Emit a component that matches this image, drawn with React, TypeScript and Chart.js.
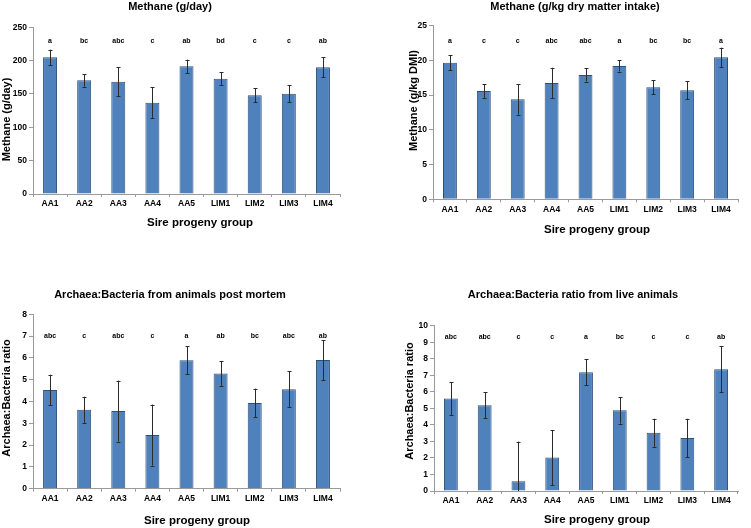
import React, { useEffect, useRef } from "react";
import { Chart, registerables } from "chart.js";

Chart.register(...registerables);

const groups = ["AA1", "AA2", "AA3", "AA4", "AA5", "LIM1", "LIM2", "LIM3", "LIM4"];

const methaneDay = [205, 170.5, 168.5, 137, 191.5, 173, 148, 150.5, 190];
const methaneDayErr = [11.5, 9.5, 22, 22.8, 10, 9.3, 10.5, 13, 14.8];
const methaneDayLetters = ["a", "bc", "abc", "c", "ab", "bd", "c", "c", "ab"];

const methaneDmi = [19.67, 15.6, 14.4, 16.75, 17.9, 19.2, 16.12, 15.69, 20.44];
const methaneDmiErr = [1.1, 1.0, 2.2, 2.2, 0.95, 0.8, 1.0, 1.3, 1.4];
const methaneDmiLetters = ["a", "c", "c", "abc", "abc", "a", "bc", "bc", "a"];

const ratioPostMortem = [4.53, 3.62, 3.56, 2.46, 5.89, 5.29, 3.93, 4.56, 5.9];
const ratioPostMortemErr = [0.7, 0.6, 1.4, 1.4, 0.64, 0.57, 0.66, 0.82, 0.92];
const ratioPostMortemLetters = ["abc", "c", "abc", "c", "a", "ab", "bc", "abc", "ab"];

const ratioLive = [5.59, 5.18, 0.59, 2.02, 7.19, 4.88, 3.52, 3.2, 7.37];
const ratioLiveErr = [1.0, 0.78, 2.4, 1.66, 0.8, 0.8, 0.85, 1.17, 1.38];
const ratioLiveLetters = ["abc", "abc", "c", "c", "a", "bc", "c", "c", "ab"];

const FONT = '"Liberation Sans", Arial, sans-serif';

type PanelCfg = {
  x: number; y: number; W: number; H: number;
  left: number; right: number; top: number; bottom: number;
  yMax: number; yStep: number; letterValue: number;
  values: number[]; errors: number[]; letters: string[];
  title: string; titlePos: [number, number];
  xTitle: string; xTitlePos: [number, number];
  yTitle: string; yTitlePos: [number, number];
};

const panels: PanelCfg[] = [
  {
    x: 0, y: 0, W: 375, H: 264, left: 33, right: 340, top: 27.3, bottom: 194,
    yMax: 250, yStep: 50, letterValue: 229,
    values: methaneDay, errors: methaneDayErr, letters: methaneDayLetters,
    title: "Methane (g/day)", titlePos: [170, 7],
    xTitle: "Sire progeny group", xTitlePos: [200, 223],
    yTitle: "Methane (g/day)", yTitlePos: [7, 119.5],
  },
  {
    x: 375, y: 0, W: 376, H: 264, left: 58, right: 363, top: 25.7, bottom: 199.3,
    yMax: 25, yStep: 5, letterValue: 22.8,
    values: methaneDmi, errors: methaneDmiErr, letters: methaneDmiLetters,
    title: "Methane (g/kg dry matter intake)", titlePos: [200, 7],
    xTitle: "Sire progeny group", xTitlePos: [222, 230],
    yTitle: "Methane (g/kg DMI)", yTitlePos: [39, 100.5],
  },
  {
    x: 0, y: 264, W: 375, H: 264, left: 33, right: 340, top: 50.3, bottom: 224.7,
    yMax: 8, yStep: 1, letterValue: 7,
    values: ratioPostMortem, errors: ratioPostMortemErr, letters: ratioPostMortemLetters,
    title: "Archaea:Bacteria from animals post mortem", titlePos: [170, 31],
    xTitle: "Sire progeny group", xTitlePos: [197, 256.7],
    yTitle: "Archaea:Bacteria ratio", yTitlePos: [7, 134],
  },
  {
    x: 375, y: 264, W: 376, H: 264, left: 59, right: 363, top: 61.7, bottom: 227,
    yMax: 10, yStep: 1, letterValue: 9.33,
    values: ratioLive, errors: ratioLiveErr, letters: ratioLiveLetters,
    title: "Archaea:Bacteria ratio from live animals", titlePos: [198, 31],
    xTitle: "Sire progeny group", xTitlePos: [222, 255.7],
    yTitle: "Archaea:Bacteria ratio", yTitlePos: [35, 137],
  },
];

function Panel({ cfg }: { cfg: PanelCfg }) {
  const ref = useRef<HTMLCanvasElement>(null);
  useEffect(() => {
    const canvas = ref.current;
    if (!canvas) return;
    const X_H = 20;
    const extras = {
      id: "extras",
      afterDatasetsDraw(chart: any) {
        const ctx = chart.ctx;
        const yScale = chart.scales.y;
        const meta = chart.getDatasetMeta(0);
        ctx.save();
        ctx.strokeStyle = "#2b2b2b";
        ctx.lineWidth = 1;
        cfg.values.forEach((v, i) => {
          const bar = meta.data[i];
          const e = cfg.errors[i];
          const px = Math.round(bar.x) + 0.5;
          const yt = yScale.getPixelForValue(v + e);
          const yb = yScale.getPixelForValue(Math.max(v - e, 0));
          ctx.beginPath();
          ctx.moveTo(px, yt);
          ctx.lineTo(px, yb);
          ctx.moveTo(px - 2, Math.round(yt) + 0.5);
          ctx.lineTo(px + 2, Math.round(yt) + 0.5);
          if (v - e > 0) {
            ctx.moveTo(px - 2, Math.round(yb) + 0.5);
            ctx.lineTo(px + 2, Math.round(yb) + 0.5);
          }
          ctx.stroke();
        });
        ctx.fillStyle = "#000";
        ctx.font = `bold 7px ${FONT}`;
        ctx.textAlign = "center";
        ctx.textBaseline = "middle";
        const ly = yScale.getPixelForValue(cfg.letterValue);
        cfg.letters.forEach((l, i) => {
          ctx.fillText(l, meta.data[i].x, ly);
        });
        ctx.restore();
      },
      afterDraw(chart: any) {
        const ctx = chart.ctx;
        ctx.save();
        ctx.fillStyle = "#000";
        ctx.textAlign = "center";
        ctx.textBaseline = "middle";
        ctx.font = `bold 11px ${FONT}`;
        ctx.fillText(cfg.title, cfg.titlePos[0], cfg.titlePos[1]);
        ctx.font = `bold 11.5px ${FONT}`;
        ctx.fillText(cfg.xTitle, cfg.xTitlePos[0], cfg.xTitlePos[1]);
        ctx.font = `bold 11px ${FONT}`;
        ctx.translate(cfg.yTitlePos[0], cfg.yTitlePos[1]);
        ctx.rotate(-Math.PI / 2);
        ctx.fillText(cfg.yTitle, 0, 0);
        ctx.restore();
      },
    };
    const chart = new Chart(canvas, {
      type: "bar",
      data: {
        labels: groups,
        datasets: [
          {
            data: cfg.values,
            backgroundColor: "#4F81BD",
            borderColor: "#2E5078",
            borderWidth: 1,
            barPercentage: 0.41,
            categoryPercentage: 1,
          },
        ],
      },
      options: {
        animation: false,
        responsive: false,
        devicePixelRatio: 1,
        layout: {
          padding: {
            left: 0,
            top: cfg.top,
            right: cfg.W - cfg.right,
            bottom: cfg.H - cfg.bottom - X_H,
          },
        },
        plugins: {
          legend: { display: false },
          tooltip: { enabled: false },
          title: { display: false },
        },
        scales: {
          x: {
            afterFit: (s: any) => { s.height = X_H; },
            grid: { drawOnChartArea: false, tickLength: 3, color: "#9a9a9a", offset: true },
            border: { color: "#9a9a9a" },
            ticks: { color: "#000", font: { family: FONT, size: 8.5, weight: "bold" }, padding: 2, maxRotation: 0, autoSkip: false },
          },
          y: {
            min: 0,
            max: cfg.yMax,
            afterFit: (s: any) => { s.width = cfg.left; },
            grid: { drawOnChartArea: false, tickLength: 4, color: "#9a9a9a" },
            border: { color: "#9a9a9a" },
            ticks: { stepSize: cfg.yStep, color: "#000", font: { family: FONT, size: 8.5, weight: "bold" }, padding: 2 },
          },
        },
      },
      plugins: [extras],
    } as any);
    return () => chart.destroy();
  }, [cfg]);
  return (
    <canvas
      ref={ref}
      width={cfg.W}
      height={cfg.H}
      style={{ position: "absolute", left: cfg.x, top: cfg.y, width: cfg.W, height: cfg.H }}
    />
  );
}

export default function App() {
  return (
    <div style={{ position: "absolute", left: 0, top: 0, width: 751, height: 528, background: "#fff" }}>
      {panels.map((p, i) => (
        <Panel key={i} cfg={p} />
      ))}
    </div>
  );
}
